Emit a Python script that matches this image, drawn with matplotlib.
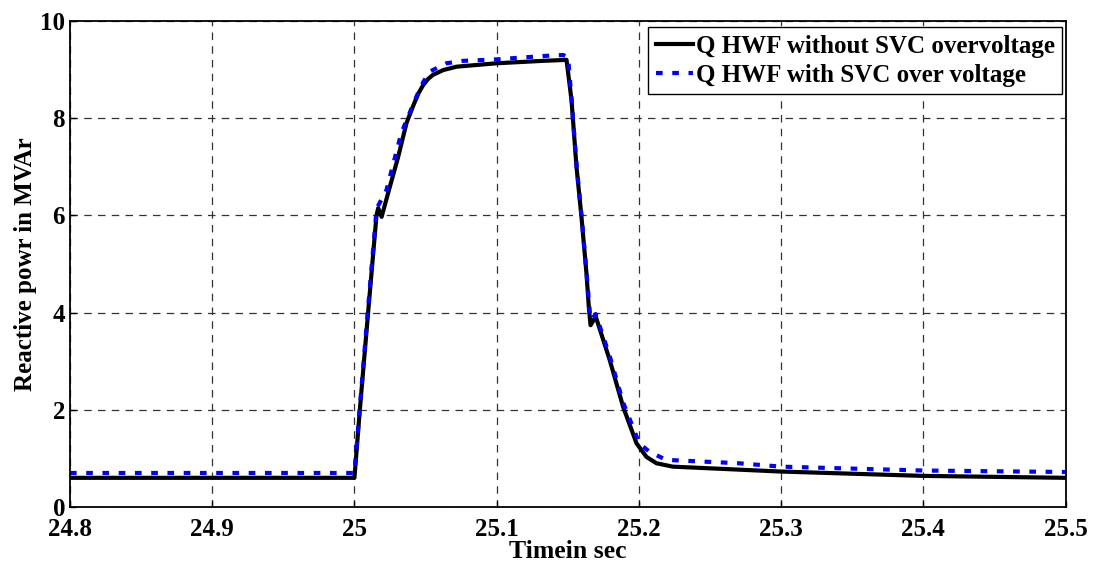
import matplotlib
matplotlib.use("Agg")
import matplotlib.pyplot as plt
import numpy as np

# Q HWF without SVC, overvoltage case
t_without = [24.8, 25.0, 25.0038, 25.0096, 25.0155, 25.0167, 25.0191, 25.0249, 25.0307,
             25.0366, 25.0411, 25.0448, 25.0483, 25.0515, 25.0551, 25.0624, 25.0718, 25.0999,
             25.1324, 25.1491, 25.1526, 25.1561, 25.1596, 25.1631, 25.1648, 25.166, 25.1696,
             25.1795, 25.1889, 25.1983, 25.2053, 25.2123, 25.2238, 25.299, 25.3995, 25.5]
q_without = [0.6, 0.6, 2.0, 4.0, 6.0, 6.15, 5.97, 6.59, 7.2,
             7.9, 8.24, 8.5, 8.68, 8.8, 8.89, 8.99, 9.06, 9.13,
             9.18, 9.2, 8.37, 7.0, 5.97, 4.81, 4.1, 3.74, 3.92,
             3.02, 2.06, 1.31, 1.03, 0.9, 0.83, 0.73, 0.64, 0.6]

# Q HWF with SVC, overvoltage case
t_with = [24.8, 25.0, 25.0038, 25.0096, 25.0155, 25.0167, 25.0225, 25.0329, 25.0435,
          25.0485, 25.053, 25.0647, 25.0764, 25.1, 25.1327, 25.1468, 25.1502, 25.1526,
          25.1561, 25.1596, 25.1631, 25.1655, 25.1665, 25.1696, 25.1795, 25.1889, 25.2002,
          25.2072, 25.219, 25.27, 25.3, 25.4, 25.5]
q_with = [0.7, 0.7, 2.05, 4.1, 6.1, 6.2, 6.52, 7.69, 8.44,
          8.75, 8.96, 9.13, 9.18, 9.21, 9.28, 9.3, 9.25, 8.4,
          7.05, 6.0, 4.85, 4.0, 3.85, 3.97, 3.1, 2.15, 1.31,
          1.14, 0.97, 0.9, 0.83, 0.75, 0.72]

x_ticks = [24.8, 24.9, 25.0, 25.1, 25.2, 25.3, 25.4, 25.5]
x_labels = ['24.8', '24.9', '25', '25.1', '25.2', '25.3', '25.4', '25.5']
y_ticks = [0, 2, 4, 6, 8, 10]

plt.rcParams['font.family'] = ['Liberation Serif', 'DejaVu Serif']
plt.rcParams['font.weight'] = 'bold'

fig = plt.figure(figsize=(10.93, 5.63), dpi=100)
ax = fig.add_axes([0.064, 0.0995, 0.911, 0.8632])

ax.plot(t_without, q_without, color='black', lw=3, label='Q HWF without SVC overvoltage')
ax.plot(t_with, q_with, color='blue', lw=3, linestyle=(0, (1.6, 2.3)),
        label='Q HWF with SVC over voltage')

ax.set_xlim(24.8, 25.5)
ax.set_ylim(0, 10)
ax.set_xticks(x_ticks)
ax.set_xticklabels(x_labels)
ax.set_yticks(y_ticks)
ax.tick_params(direction='in', length=4, labelsize=18, width=1)
ax.tick_params(axis='x', pad=8)
for lab in ax.get_xticklabels() + ax.get_yticklabels():
    lab.set_fontweight('bold')
ax.grid(True, color='#333333', linestyle=(0, (6, 5)), linewidth=0.9)
for s in ax.spines.values():
    s.set_linewidth(1.3)

ax.set_xlabel('Timein sec', fontsize=18.5, fontweight='bold', labelpad=-1)
ax.set_ylabel('Reactive powr in MVAr', fontsize=18, fontweight='bold', labelpad=2)

leg = ax.legend(loc='upper right', bbox_to_anchor=(1062 / 1093, 1 - 27 / 563),
                bbox_transform=fig.transFigure, borderaxespad=0, fancybox=False,
                framealpha=1, edgecolor='black', prop={'size': 18, 'weight': 'bold'},
                handlelength=1.5, handletextpad=0.1, borderpad=0.3, labelspacing=0.25)
leg.get_frame().set_linewidth(1.0)

fig.savefig('out.png', dpi=100)
